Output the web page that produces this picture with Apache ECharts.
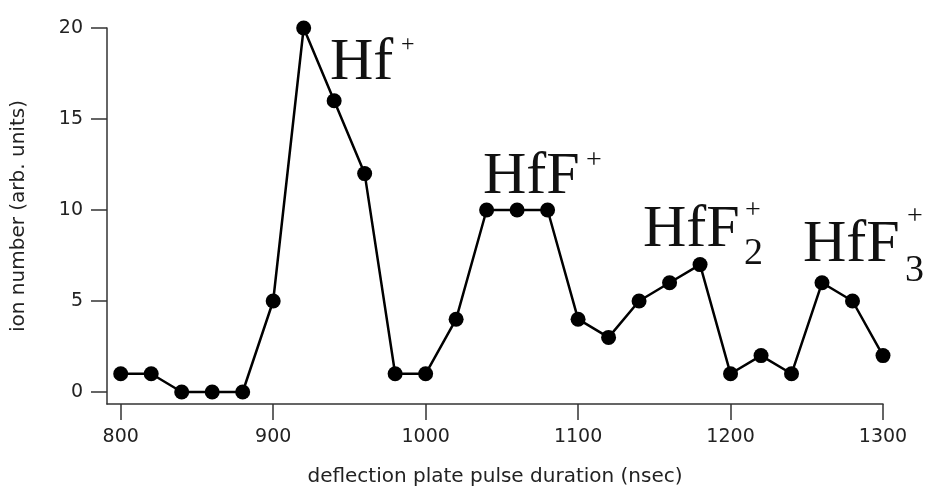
<!DOCTYPE html>
<html>
<head>
<meta charset="utf-8">
<script src="https://cdn.jsdelivr.net/npm/echarts@6/dist/echarts.min.js"></script>
<style>
  html, body { margin: 0; padding: 0; background: #fff; }
  #chart { width: 927px; height: 493px; }
</style>
</head>
<body>
<div id="chart"></div>
<script>
// pulse duration (nsec) and ion counts
var durations = [800, 820, 840, 860, 880, 900, 920, 940, 960, 980, 1000, 1020, 1040,
  1060, 1080, 1100, 1120, 1140, 1160, 1180, 1200, 1220, 1240, 1260, 1280, 1300]
var ionCounts = [1, 1, 0, 0, 0, 5, 20, 16, 12, 1, 1, 4, 10,
  10, 10, 4, 3, 5, 6, 7, 1, 2, 1, 6, 5, 2]
var xTicks = [800, 900, 1000, 1100, 1200, 1300]
var yTicks = [0, 5, 10, 15, 20]

var points = durations.map(function (d, i) { return [d, ionCounts[i]] })

var sans = '"DejaVu Sans", sans-serif'
var serif = '"Liberation Serif", "DejaVu Serif", serif'
var axisColor = '#333'
var labelColor = '#222'

function label(text, x, y, size) {
  return {
    type: 'text', x: x, y: y,
    style: { text: text, font: size + 'px ' + serif, fill: '#111', verticalAlign: 'top' }
  }
}

var myChart = echarts.init(document.getElementById('chart'))
myChart.setOption({
  animation: false,
  grid: { left: 107, right: 44, top: 28, bottom: 89 },
  xAxis: {
    type: 'value',
    min: 791,
    max: 1300,
    name: 'deflection plate pulse duration (nsec)',
    nameLocation: 'middle',
    nameGap: 63,
    nameTextStyle: { fontFamily: sans, fontSize: 20, color: labelColor },
    axisLine: { onZero: false, lineStyle: { color: axisColor, width: 1.5 } },
    axisTick: { show: true, length: 16, customValues: xTicks, lineStyle: { color: axisColor, width: 1.5 } },
    axisLabel: {
      customValues: xTicks, margin: 24, fontFamily: sans, fontSize: 19, color: labelColor,
      formatter: function (v) { return String(v) }
    },
    splitLine: { show: false }
  },
  yAxis: {
    type: 'value',
    min: -0.66,
    max: 20,
    name: 'ion number (arb. units)',
    nameLocation: 'middle',
    nameGap: 78,
    nameTextStyle: { fontFamily: sans, fontSize: 20, color: labelColor },
    axisLine: { show: true, onZero: false, lineStyle: { color: axisColor, width: 1.5 } },
    axisTick: { show: true, length: 16, customValues: yTicks, lineStyle: { color: axisColor, width: 1.5 } },
    axisLabel: {
      customValues: yTicks, margin: 24, fontFamily: sans, fontSize: 19, color: labelColor,
      formatter: function (v) { return String(v) }
    },
    splitLine: { show: false }
  },
  series: [{
    type: 'line',
    data: points,
    symbol: 'circle',
    symbolSize: 15,
    lineStyle: { color: '#000', width: 2.5 },
    itemStyle: { color: '#000' }
  }],
  graphic: [
    label('Hf', 330, 33, 60), label('+', 401, 33, 24),
    label('HfF', 483, 147, 60), label('+', 586, 147, 28),
    label('HfF', 643, 200, 60), label('+', 745, 197, 28), label('2', 744, 235, 38),
    label('HfF', 803, 215, 60), label('+', 907, 203, 28), label('3', 905, 252, 38)
  ]
})
</script>
</body>
</html>
